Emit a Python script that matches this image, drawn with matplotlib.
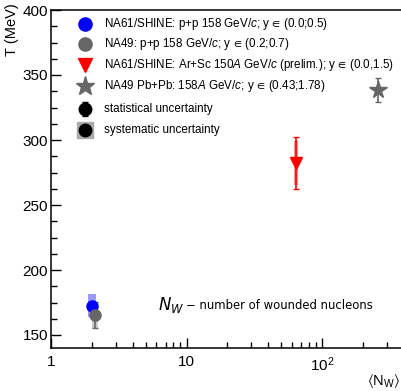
import matplotlib
matplotlib.use("Agg")
import matplotlib.pyplot as plt
from matplotlib.patches import Rectangle
from matplotlib.ticker import FixedLocator, MultipleLocator, NullFormatter
import numpy as np

plt.rcParams['font.family'] = ['Liberation Sans', 'DejaVu Sans']
plt.rcParams['mathtext.fontset'] = 'custom'
plt.rcParams['mathtext.rm'] = 'Liberation Sans'
plt.rcParams['mathtext.it'] = 'Liberation Sans:italic'
plt.rcParams['mathtext.fallback'] = 'stixsans'

# data: <N_W>, T (MeV), stat error, sys error
labels = ["NA61/SHINE: p+p 158 GeV/$c$; y$\\,\\in\\,$(0.0;0.5)",
          "NA49: p+p 158 GeV/$c$; y$\\,\\in\\,$(0.2;0.7)",
          "NA61/SHINE: Ar+Sc 150$A$ GeV/$c$ (prelim.); y$\\,\\in\\,$(0.0,1.5)",
          "NA49 Pb+Pb: 158$A$ GeV/$c$; y$\\,\\in\\,$(0.43;1.78)"]
nw = [2.0, 2.11, 64.3, 258.0]
temp = [172.5, 165.5, 282.5, 338.5]
stat = [1.5, 10.0, 20.0, 9.0]
sys_err = [9.0, 10.0, 17.0, 0.0]
colors = ['#0000ff', '#666666', '#ff0000', '#666666']
sys_colors = ['#9999ff', '#cccccc', '#ff9999', None]
markers = ['o', 'o', 'v', '*']
msizes = [8, 8, 9, 13]
box_px = [8, 6, 4, 0]

fig = plt.figure(figsize=(4.02, 3.91), dpi=100)
ax = fig.add_axes([51/402, 43/391, 352.6/402, 338/391])
ax.set_xscale('log')
ax.set_xlim(1, 400)
ax.set_ylim(140, 400)

dec_px = 135.5
for i in range(len(nw)):
    if sys_err[i] > 0:
        d = 10 ** (box_px[i] / 2 / dec_px)
        ax.add_patch(Rectangle((nw[i] / d, temp[i] - sys_err[i]), nw[i] * d - nw[i] / d,
                               2 * sys_err[i], facecolor=sys_colors[i], edgecolor='none', zorder=2))
    ax.errorbar([nw[i]], [temp[i]], yerr=[stat[i]], fmt='none', ecolor=colors[i],
                elinewidth=1.2, capsize=2, capthick=1, zorder=3)
    ax.plot([nw[i]], [temp[i]], marker=markers[i], color=colors[i], ms=msizes[i],
            linestyle='none', zorder=4)

ax.xaxis.set_major_locator(FixedLocator([1, 10, 100]))
ax.set_xticklabels(['1', '10', '10$^{2}$'])
minor = [m * 10 ** e for e in range(0, 3) for m in range(2, 10)]
ax.xaxis.set_minor_locator(FixedLocator(minor))
ax.xaxis.set_minor_formatter(NullFormatter())
ax.yaxis.set_major_locator(MultipleLocator(50))
ax.yaxis.set_minor_locator(MultipleLocator(12.5))
ax.tick_params(which='both', direction='in', top=False, right=False, width=1)
ax.tick_params(which='major', length=7, labelsize=11, pad=5)
ax.tick_params(axis='y', which='major', pad=2)
ax.tick_params(which='minor', length=4)
for s in ax.spines.values():
    s.set_linewidth(1.1)

renderer = fig.canvas.get_renderer()


def fit_text(t, x0_px, x1_px):
    bb = t.get_window_extent(renderer)
    w = bb.x1 - bb.x0
    t.set_fontsize(t.get_fontsize() * (x1_px - x0_px) / w)


# legend (manual)
lx, tx = 0.0964, 0.1503
rows = [0.9586, 0.899, 0.837, 0.775, 0.707, 0.645]
lsz = [9.5, 9.5, 10, 14]
fs = 8.6
for i in range(4):
    ax.plot([lx], [rows[i]], marker=markers[i], color=colors[i], ms=lsz[i],
            transform=ax.transAxes, linestyle='none', clip_on=False, zorder=5)
texts = []
for i in range(4):
    texts.append(ax.text(tx, rows[i], labels[i], transform=ax.transAxes, fontsize=fs,
                         va='center', ha='left'))
fit_text(texts[2], 104, 393)
fs = texts[2].get_fontsize()
for t in texts:
    t.set_fontsize(fs)

ax.errorbar([lx], [rows[4]], yerr=[0.022], transform=ax.transAxes, fmt='o',
            color='black', ms=9, elinewidth=1.2, capsize=2, zorder=5)
ax.text(tx, rows[4], "statistical uncertainty", transform=ax.transAxes, fontsize=fs,
        va='center', ha='left')
ax.plot([lx], [rows[5]], marker='s', color='#aaaaaa', ms=12, transform=ax.transAxes,
        linestyle='none', zorder=4)
ax.plot([lx], [rows[5]], marker='o', color='black', ms=9, transform=ax.transAxes,
        linestyle='none', zorder=5)
ax.text(tx, rows[5], "systematic uncertainty", transform=ax.transAxes, fontsize=fs,
        va='center', ha='left')

nwx0 = (158 - 51) / 352.6
ax.text(nwx0, 0.126, "$N_W$", transform=ax.transAxes, fontsize=12, va='center', ha='left',
        family=['DejaVu Sans'], math_fontfamily='dejavusans')
tn = ax.text((186 - 51) / 352.6, 0.126, "\u2212 number of wounded nucleons", transform=ax.transAxes,
             fontsize=9, va='center', ha='left', family=['DejaVu Sans'])
fit_text(tn, 186, 372)

fig.text(12/402, 1 - 30/391, "T (MeV)", rotation=90, fontsize=10.5, ha='center', va='center')
fig.text(400/402, 1 - 381/391, "$\\langle$N$_\\mathrm{W}\\rangle$", fontsize=10.5,
         ha='right', va='center')

fig.savefig("out.png", dpi=100)
